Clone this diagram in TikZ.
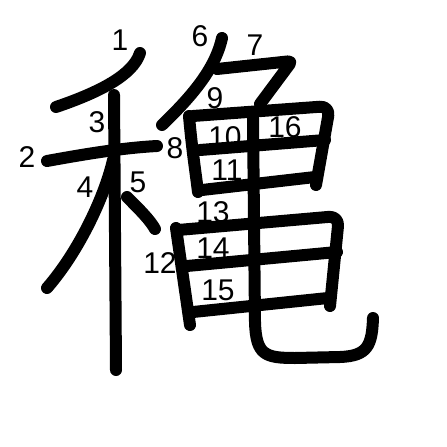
\documentclass[tikz,border=0pt]{standalone}
\usepackage{fontspec}
\setmainfont{Liberation Sans}
\tikzstyle{brush} = [line width=12pt, line cap=round, line join=round]
\tikzstyle{num} = [font=\fontsize{30}{30}\selectfont, inner sep=0pt]

\begin{document}
\begin{tikzpicture}[x=1pt, y=-1pt]
  \useasboundingbox[fill=white] (0,0) rectangle (447,447);

  % left part
  \draw[brush] (140,53) .. controls (133,75) and (100,92) .. (56,107);
  \draw[brush] (47,161) .. controls (80,155) and (120,148) .. (157,146);
  \draw[brush] (114,95) -- (116,370);
  \draw[brush] (113,160) .. controls (105,195) and (80,250) .. (47,288);
  \draw[brush] (127,197) .. controls (140,210) and (150,220) .. (155,229);

  % right part, top
  \draw[brush] (222,38) .. controls (215,70) and (190,98) .. (162,125);
  \draw[brush, rounded corners=4pt] (217,69) -- (292,61) -- (260,104);
  \draw[brush] (189,116) .. controls (192,150) and (196,175) .. (198,192);
  \draw[brush, rounded corners=10pt] (193,116) -- (330,106) -- (316,185);
  \draw[brush] (200,150) -- (325,140);
  \draw[brush] (202,190) -- (315,177);

  % right part, bottom
  \draw[brush] (176,228) -- (190,325);
  \draw[brush, rounded corners=10pt] (178,230) -- (339,216) -- (330,306);
  \draw[brush] (187,266) -- (337,252);
  \draw[brush] (193,312) -- (328,298);
  \draw[brush] (253,118) -- (255,322) .. controls (256,355) and (265,358) .. (295,358)
    -- (340,357) .. controls (368,356) and (372,345) .. (373,318);

  % stroke numbers
  \node[num] (n1) at (120,40) {1};
  \node[num] (n2) at (27,157) {2};
  \node[num] (n3) at (97,122) {3};
  \node[num] (n4) at (85,187) {4};
  \node[num] (n5) at (138,182) {5};
  \node[num] (n6) at (200,36) {6};
  \node[num] (n7) at (255,45) {7};
  \node[num] (n8) at (175,148) {8};
  \node[num] (n9) at (215,98) {9};
  \node[num] (n10) at (225,137) {10};
  \node[num] (n11) at (227,170) {11};
  \node[num] (n12) at (160,263) {12};
  \node[num] (n13) at (213,212) {13};
  \node[num] (n14) at (213,248) {14};
  \node[num] (n15) at (218,290) {15};
  \node[num] (n16) at (285,127) {16};
\end{tikzpicture}
\end{document}
